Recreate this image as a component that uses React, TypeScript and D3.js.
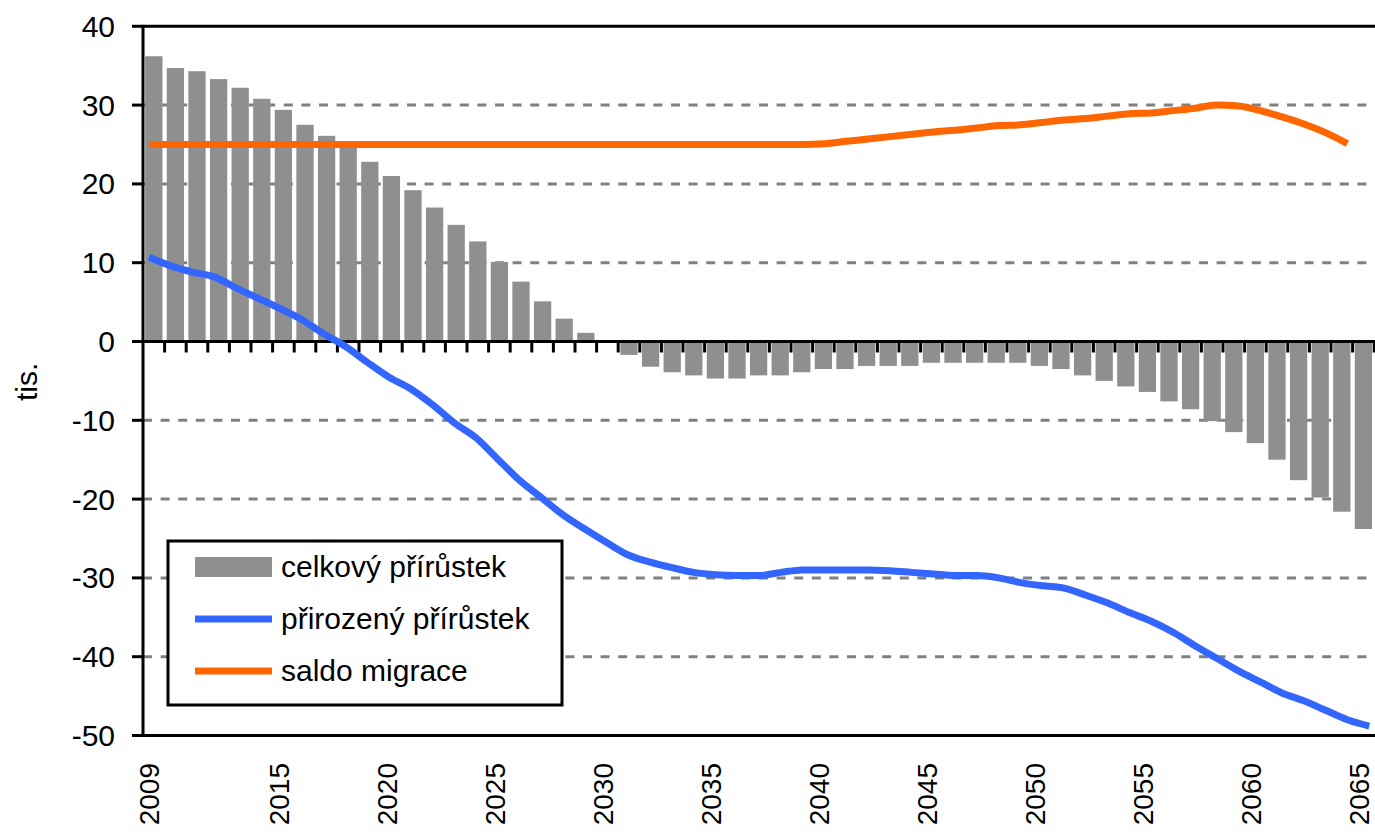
import * as d3 from "d3"

// kategorie (roky) a popisky osy x
const years = d3.range(2009, 2066)
const yearLabels = [2009, 2015, 2020, 2025, 2030, 2035, 2040, 2045, 2050, 2055, 2060, 2065]
const yTicks = [40, 30, 20, 10, 0, -10, -20, -30, -40, -50]

// celkový přírůstek (tis.) – sloupce
const celkovy = [
  36.2, 34.7, 34.3, 33.3, 32.2, 30.8, 29.4, 27.5, 26.1, 24.9,
  22.8, 21.0, 19.2, 17.0, 14.8, 12.7, 10.1, 7.6, 5.1, 2.9,
  1.1, 0.0, -1.7, -3.2, -3.9, -4.3, -4.7, -4.7, -4.3, -4.3,
  -3.9, -3.5, -3.5, -3.1, -3.1, -3.1, -2.7, -2.7, -2.7, -2.7,
  -2.7, -3.1, -3.5, -4.3, -5.0, -5.7, -6.4, -7.6, -8.6, -10.1,
  -11.5, -12.9, -15.0, -17.6, -19.8, -21.6, -23.8,
]

// přirozený přírůstek (tis.)
const prirozeny = [
  10.7, 9.6, 8.8, 8.2, 6.8, 5.5, 4.2, 2.8, 1.0, -0.6,
  -2.6, -4.5, -6.0, -8.0, -10.3, -12.2, -14.9, -17.6, -19.8, -22.0,
  -23.8, -25.5, -27.1, -28.0, -28.7, -29.3, -29.6, -29.7, -29.7, -29.3,
  -29.0, -29.0, -29.0, -29.0, -29.1, -29.3, -29.5, -29.7, -29.7, -30.0,
  -30.6, -31.0, -31.3, -32.2, -33.2, -34.4, -35.5, -36.9, -38.6, -40.2,
  -41.8, -43.2, -44.6, -45.6, -46.8, -48.0, -48.8,
]

// saldo migrace (tis.)
const saldo = [
  25, 25, 25, 25, 25, 25, 25, 25, 25, 25,
  25, 25, 25, 25, 25, 25, 25, 25, 25, 25,
  25, 25, 25, 25, 25, 25, 25, 25, 25, 25,
  25, 25.1, 25.4, 25.7, 26.0, 26.3, 26.6, 26.8, 27.1, 27.4,
  27.5, 27.8, 28.1, 28.3, 28.6, 28.9, 29.0, 29.3, 29.6, 30.0,
  29.9, 29.3, 28.5, 27.6, 26.5, 25.1,
]

const legendItems = [
  { label: "celkový přírůstek", type: "bar", color: "#8f8f8f" },
  { label: "přirozený přírůstek", type: "line", color: "#3366ff" },
  { label: "saldo migrace", type: "line", color: "#ff6600" },
]

const W = 1375
const H = 832
const FONT = "'Liberation Sans', Arial, sans-serif"

export default function App() {
  const left = 143
  const step = 21.6
  const right = left + step * years.length
  const top = 26.3
  const bottom = 735.5

  const y = d3.scaleLinear().domain([-50, 40]).range([bottom, top])
  const x = d3
    .scaleBand<number>()
    .domain(years)
    .range([left, right])
    .paddingInner(0.2)
    .paddingOuter(0.1)
  const xLine = d3
    .scaleLinear()
    .domain([years[0], years[years.length - 1]])
    .range([left + 6, right - 5])

  const line = d3
    .line<number>()
    .x((_, i) => xLine(years[i]))
    .y((d) => y(d))
    .curve(d3.curveMonotoneX)

  const y0 = y(0)
  const boundaries = d3.range(1, years.length + 1).map((i) => left + i * x.step())

  const lg = { x: 168, y: 541, w: 394, h: 164 }

  return (
    <svg
      width={W}
      height={H}
      style={{ position: "absolute", left: 0, top: 0, background: "#fff" }}
      fontFamily={FONT}
    >
      {/* mřížka */}
      {yTicks
        .filter((t) => t !== 40 && t !== 0 && t !== -50)
        .map((t) => (
          <line
            key={"g" + t}
            x1={left}
            x2={W}
            y1={y(t)}
            y2={y(t)}
            stroke="#808080"
            strokeWidth={3}
            strokeDasharray="9,8.6"
          />
        ))}

      {/* sloupce */}
      {celkovy.map((v, i) => (
        <rect
          key={"b" + i}
          x={x(years[i])}
          width={x.bandwidth()}
          y={Math.min(y(v), y0)}
          height={Math.abs(y(v) - y0)}
          fill="#8f8f8f"
        />
      ))}

      {/* nulová osa a značky */}
      <line x1={left} x2={W} y1={y0} y2={y0} stroke="#000" strokeWidth={3} />
      {boundaries.map((bx, i) => (
        <line key={"t" + i} x1={bx} x2={bx} y1={y0} y2={y0 + 11} stroke="#000" strokeWidth={3} />
      ))}

      {/* rámeček */}
      <line x1={left - 1.5} x2={W} y1={top} y2={top} stroke="#000" strokeWidth={3} />
      <line x1={left - 1.5} x2={W} y1={bottom} y2={bottom} stroke="#000" strokeWidth={3} />
      <line x1={left} x2={left} y1={top} y2={bottom + 1.5} stroke="#000" strokeWidth={3} />

      {/* osa y */}
      {yTicks.map((t) => (
        <g key={"y" + t}>
          <line x1={left - 11} x2={left} y1={y(t)} y2={y(t)} stroke="#000" strokeWidth={3} />
          <text x={115} y={y(t) + 10.5} textAnchor="end" fontSize={30} fill="#000">
            {String(t)}
          </text>
        </g>
      ))}
      <text
        transform={`translate(37,${(top + bottom) / 2 + 1}) rotate(-90)`}
        textAnchor="middle"
        fontSize={30}
        fill="#000"
      >
        tis.
      </text>

      {/* popisky osy x */}
      {yearLabels.map((yr) => (
        <text
          key={"x" + yr}
          transform={`translate(${(x(yr) as number) + x.bandwidth() / 2 + 5.5},763) rotate(-90)`}
          textAnchor="end"
          fontSize={28}
          fill="#000"
        >
          {yr}
        </text>
      ))}

      {/* křivky */}
      <path d={line(prirozeny) || ""} fill="none" stroke="#3366ff" strokeWidth={7} />
      <path d={line(saldo) || ""} fill="none" stroke="#ff6600" strokeWidth={7} />

      {/* legenda */}
      <rect x={lg.x} y={lg.y} width={lg.w} height={lg.h} fill="#fff" stroke="#000" strokeWidth={3} />
      {legendItems.map((it, i) => {
        const cy = 567 + i * 52
        return (
          <g key={it.label}>
            {it.type === "bar" ? (
              <rect x={195} y={cy - 10} width={77} height={20} fill={it.color} />
            ) : (
              <line x1={195} x2={272} y1={cy} y2={cy} stroke={it.color} strokeWidth={7} />
            )}
            <text x={281} y={cy + 10} fontSize={30} fill="#000">
              {it.label}
            </text>
          </g>
        )
      })}
    </svg>
  )
}
